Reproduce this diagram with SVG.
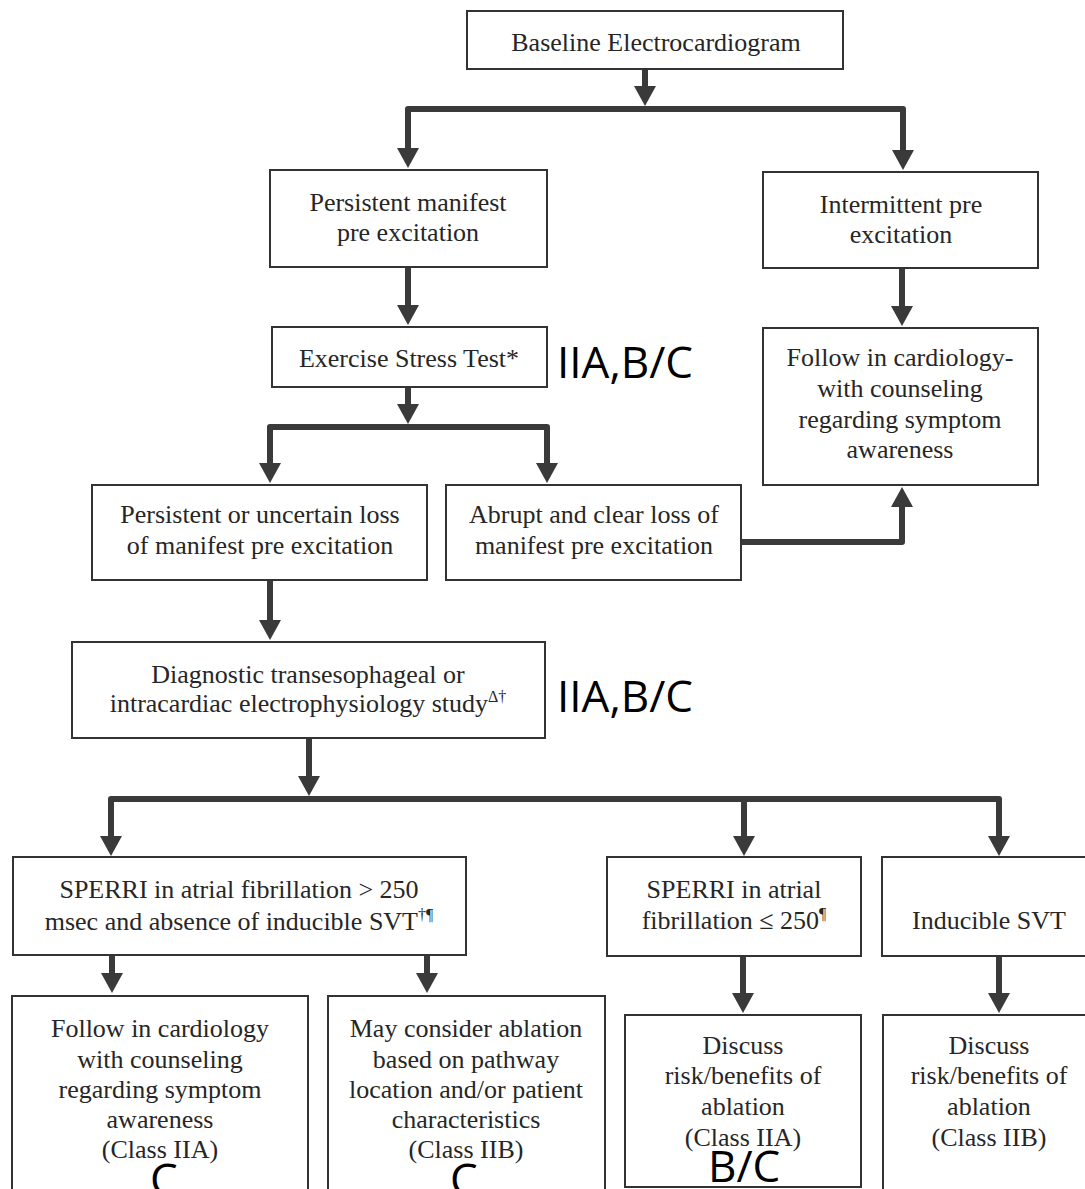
<svg xmlns="http://www.w3.org/2000/svg" width="1085" height="1189" viewBox="0 0 1085 1189">
<style>
.box{fill:#ffffff;stroke:#333333;stroke-width:2}
.t{font-family:"Liberation Serif","Times New Roman",serif;font-size:26px;fill:#262626;text-anchor:middle}
.sup{font-size:16px}
.lbl{font-family:"Open Sans","Liberation Sans",sans-serif;font-size:44px;fill:#000000}
.c{fill:none;stroke:#3a3a3a;stroke-width:6;stroke-linejoin:round}
</style>
<defs>
<marker id="ah" viewBox="0 0 20 22" refX="0" refY="11" markerWidth="20" markerHeight="22" markerUnits="userSpaceOnUse" orient="auto-start-reverse">
<path d="M0,0 L20,11 L0,22 z" fill="#3a3a3a"/>
</marker>
</defs>
<rect width="1085" height="1189" fill="#ffffff"/>

<g id="connectors">
<path class="c" d="M645 69 V86" marker-end="url(#ah)"/>
<path class="c" d="M408 148 V109 H903 V150" marker-start="url(#ah)" marker-end="url(#ah)"/>
<path class="c" d="M408 268 V305" marker-end="url(#ah)"/>
<path class="c" d="M902 269 V306" marker-end="url(#ah)"/>
<path class="c" d="M408 388 V404" marker-end="url(#ah)"/>
<path class="c" d="M270 463 V427 H547 V463" marker-start="url(#ah)" marker-end="url(#ah)"/>
<path class="c" d="M742 542 H902 V507" marker-end="url(#ah)"/>
<path class="c" d="M270 581 V620" marker-end="url(#ah)"/>
<path class="c" d="M309 739 V776" marker-end="url(#ah)"/>
<path class="c" d="M111 836 V799 H999 V836" marker-start="url(#ah)" marker-end="url(#ah)"/>
<path class="c" d="M744 799 V836" marker-end="url(#ah)"/>
<path class="c" d="M112 956 V973" marker-end="url(#ah)"/>
<path class="c" d="M427 956 V973" marker-end="url(#ah)"/>
<path class="c" d="M743 957 V993" marker-end="url(#ah)"/>
<path class="c" d="M999 957 V993" marker-end="url(#ah)"/>
</g>

<g id="baseline">
<rect class="box" x="467" y="11" width="376" height="58"/>
<text class="t" x="656" y="51">Baseline Electrocardiogram</text>
</g>

<g id="persistent">
<rect class="box" x="270" y="170" width="277" height="97"/>
<text class="t" x="408" y="211">Persistent manifest</text>
<text class="t" x="408" y="241">pre excitation</text>
</g>

<g id="intermittent">
<rect class="box" x="763" y="172" width="275" height="96"/>
<text class="t" x="901" y="213">Intermittent pre</text>
<text class="t" x="901" y="243">excitation</text>
</g>

<g id="exercise">
<rect class="box" x="272" y="327" width="275" height="60"/>
<text class="t" x="409" y="367">Exercise Stress Test*</text>
</g>

<g id="label-exercise">
<text class="lbl" x="557" y="378">IIA,B/C</text>
</g>

<g id="follow-top">
<rect class="box" x="763" y="328" width="275" height="157"/>
<text class="t" x="900" y="366">Follow in cardiology-</text>
<text class="t" x="900" y="397">with counseling</text>
<text class="t" x="900" y="428">regarding symptom</text>
<text class="t" x="900" y="458">awareness</text>
</g>

<g id="uncertain">
<rect class="box" x="92" y="485" width="335" height="95"/>
<text class="t" x="260" y="523">Persistent or uncertain loss</text>
<text class="t" x="260" y="554">of manifest pre excitation</text>
</g>

<g id="abrupt">
<rect class="box" x="446" y="485" width="295" height="95"/>
<text class="t" x="594" y="523">Abrupt and clear loss of</text>
<text class="t" x="594" y="554">manifest pre excitation</text>
</g>

<g id="diagnostic">
<rect class="box" x="72" y="642" width="473" height="96"/>
<text class="t" x="308" y="683">Diagnostic transesophageal or</text>
<text class="t" x="308" y="712">intracardiac electrophysiology study<tspan class="sup" dy="-10">Δ†</tspan></text>
</g>

<g id="label-diagnostic">
<text class="lbl" x="557" y="712">IIA,B/C</text>
</g>

<g id="sperri-high">
<rect class="box" x="13" y="857" width="453" height="98"/>
<text class="t" x="239" y="898">SPERRI in atrial fibrillation &gt; 250</text>
<text class="t" x="239" y="930">msec and absence of inducible SVT<tspan class="sup" dy="-10">†¶</tspan></text>
</g>

<g id="sperri-low">
<rect class="box" x="607" y="857" width="254" height="99"/>
<text class="t" x="734" y="898">SPERRI in atrial</text>
<text class="t" x="734" y="929">fibrillation ≤ 250<tspan class="sup" dy="-10">¶</tspan></text>
</g>

<g id="inducible">
<rect class="box" x="882" y="857" width="220" height="99"/>
<text class="t" x="989" y="929">Inducible SVT</text>
</g>

<g id="follow-bottom">
<rect class="box" x="12" y="996" width="296" height="210"/>
<text class="t" x="160" y="1037">Follow in cardiology</text>
<text class="t" x="160" y="1068">with counseling</text>
<text class="t" x="160" y="1098">regarding symptom</text>
<text class="t" x="160" y="1128">awareness</text>
<text class="t" x="160" y="1158">(Class IIA)</text>
</g>

<g id="label-follow-bottom">
<text class="lbl" x="150" y="1195">C</text>
</g>

<g id="may-consider">
<rect class="box" x="328" y="996" width="277" height="210"/>
<text class="t" x="466" y="1037">May consider ablation</text>
<text class="t" x="466" y="1068">based on pathway</text>
<text class="t" x="466" y="1098">location and/or patient</text>
<text class="t" x="466" y="1128">characteristics</text>
<text class="t" x="466" y="1158">(Class IIB)</text>
</g>

<g id="label-may-consider">
<text class="lbl" x="450" y="1195">C</text>
</g>

<g id="discuss-iia">
<rect class="box" x="625" y="1015" width="236" height="172"/>
<text class="t" x="743" y="1054">Discuss</text>
<text class="t" x="743" y="1084">risk/benefits of</text>
<text class="t" x="743" y="1115">ablation</text>
<text class="t" x="743" y="1146">(Class IIA)</text>
</g>

<g id="label-discuss-iia">
<text class="lbl" x="708" y="1182">B/C</text>
</g>

<g id="discuss-iib">
<rect class="box" x="883" y="1015" width="220" height="190"/>
<text class="t" x="989" y="1054">Discuss</text>
<text class="t" x="989" y="1084">risk/benefits of</text>
<text class="t" x="989" y="1115">ablation</text>
<text class="t" x="989" y="1146">(Class IIB)</text>
</g>
</svg>
